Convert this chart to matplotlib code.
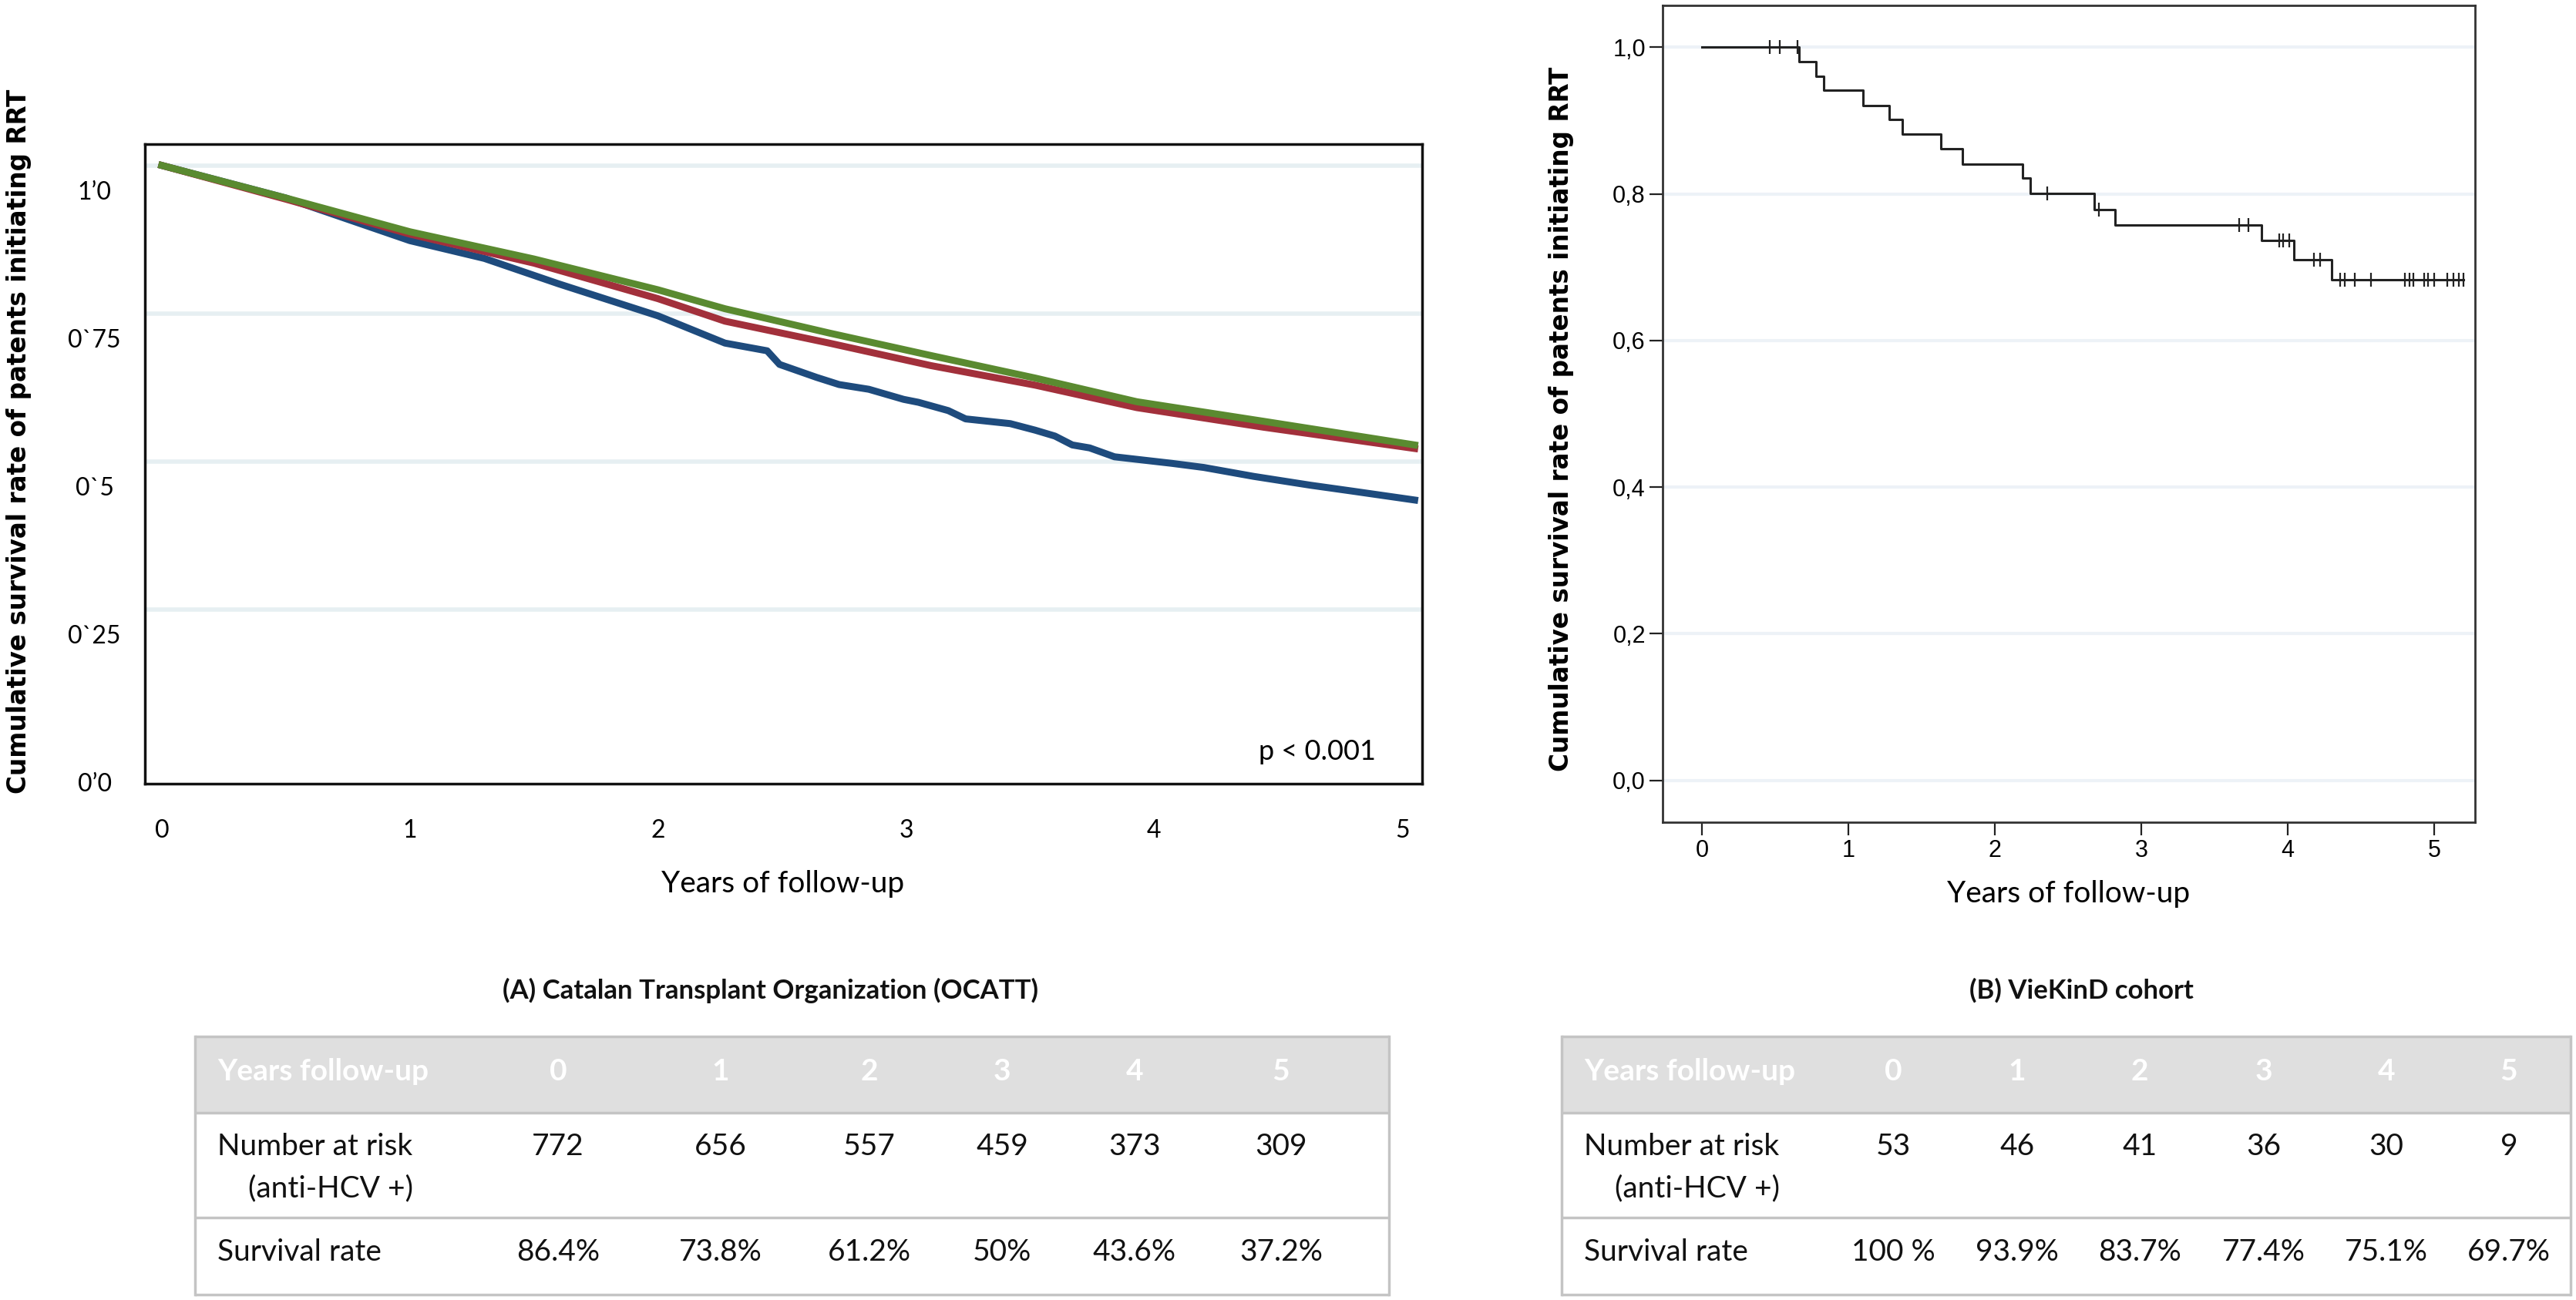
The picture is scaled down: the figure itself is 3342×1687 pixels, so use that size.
import matplotlib
matplotlib.use("Agg")
import matplotlib.pyplot as plt
import matplotlib.transforms as mtransforms
from matplotlib.patches import Rectangle
import numpy as np

W, H, DPI = 3342, 1687, 100

# ---- (A) OCATT survival curves ----
blue_t = [0, 0.5, 1.0, 1.3, 1.6, 1.8, 2.0, 2.27, 2.44, 2.49, 2.64, 2.73, 2.85, 2.99, 3.05,
          3.17, 3.24, 3.42, 3.52, 3.60, 3.67, 3.74, 3.84, 4.07, 4.2, 4.4, 4.63, 4.8, 5.05]
blue_s = [1.0, 0.945, 0.873, 0.843, 0.80, 0.773, 0.746, 0.70, 0.687, 0.664, 0.642, 0.630, 0.622,
          0.605, 0.600, 0.586, 0.572, 0.564, 0.553, 0.543, 0.528, 0.523, 0.508, 0.497, 0.49,
          0.475, 0.46, 0.45, 0.435]
red_t = [0, 0.5, 1.0, 1.5, 2.0, 2.27, 2.69, 3.1, 3.52, 3.93, 4.44, 5.05]
red_s = [1.0, 0.943, 0.884, 0.835, 0.775, 0.737, 0.700, 0.662, 0.629, 0.591, 0.558, 0.522]
green_t = [0, 0.5, 1.0, 1.5, 2.0, 2.27, 2.69, 3.1, 3.52, 3.93, 4.44, 5.05]
green_s = [1.0, 0.945, 0.888, 0.842, 0.79, 0.758, 0.717, 0.679, 0.641, 0.601, 0.568, 0.528]

a_yticks = [0, 0.25, 0.5, 0.75, 1.0]
a_ylabels = ["0\u20190", "0`25", "0`5", "0`75", "1\u20190"]

# ---- (B) VieKinD Kaplan-Meier ----
km_t = [0, 0.66, 0.78, 0.83, 1.10, 1.28, 1.37, 1.63, 1.78, 2.19, 2.24, 2.68, 2.82, 3.82,
        4.04, 4.30, 5.20]
km_s = [1.0, 0.980, 0.960, 0.941, 0.920, 0.901, 0.881, 0.861, 0.841, 0.822, 0.801, 0.779,
        0.757, 0.736, 0.710, 0.683, 0.683]
censor_t = [0.46, 0.53, 0.65, 2.36, 2.71, 3.67, 3.73, 3.94, 3.97, 4.01, 4.18, 4.22, 4.36,
            4.39, 4.46, 4.57, 4.80, 4.83, 4.86, 4.93, 4.96, 5.00, 5.09, 5.13, 5.17, 5.20]

b_yticks = [0, 0.2, 0.4, 0.6, 0.8, 1.0]
b_ylabels = ["0,0", "0,2", "0,4", "0,6", "0,8", "1,0"]

# ---- tables ----
years = ["0", "1", "2", "3", "4", "5"]
ocatt_risk = [772, 656, 557, 459, 373, 309]
ocatt_surv = ["86.4%", "73.8%", "61.2%", "50%", "43.6%", "37.2%"]
viekind_risk = [53, 46, 41, 36, 30, 9]
viekind_surv = ["100 %", "93.9%", "83.7%", "77.4%", "75.1%", "69.7%"]

ylabel = "Cumulative survival rate of patents initiating RRT"
TXT = ["Lato", "DejaVu Sans"]
NARROW = ["Liberation Sans Narrow", "Liberation Sans", "DejaVu Sans"]

fig = plt.figure(figsize=(W / DPI, H / DPI), dpi=DPI)
fig.patch.set_facecolor("white")


def px_rect(x0, y0, x1, y1):
    return [x0 / W, 1 - y1 / H, (x1 - x0) / W, (y1 - y0) / H]


# left panel
axA = fig.add_axes(px_rect(188, 187, 1845, 1017))
axA.plot(blue_t, blue_s, color="#1e4b7d", lw=6.5, zorder=3)
axA.plot(red_t, red_s, color="#a2303b", lw=6.5, zorder=4)
axA.plot(green_t, green_s, color="#5a8a30", lw=6.5, zorder=5)
axA.set_xlim(-0.068, 5.08)
axA.set_ylim(-0.044, 1.036)
axA.set_xticks(range(6), labels=years)
axA.set_yticks(a_yticks, labels=a_ylabels)
axA.tick_params(length=0, labelsize=23)
axA.tick_params(axis="x", pad=33)
axA.tick_params(axis="y", pad=47)
for lab in axA.get_xticklabels() + axA.get_yticklabels():
    lab.set_fontfamily(TXT)
plt.setp(axA.get_yticklabels(), ha="center")
shift = mtransforms.ScaledTranslation(0, -32 / DPI, fig.dpi_scale_trans)
for lab in axA.get_yticklabels():
    lab.set_transform(lab.get_transform() + shift)
axA.grid(axis="y", color="#e6eff2", lw=4)
axA.get_ygridlines()[0].set_visible(False)
axA.set_axisbelow(True)
for s in axA.spines.values():
    s.set_linewidth(2.5)
    s.set_color("#111111")

# right panel
axB = fig.add_axes(px_rect(2157, 7, 3211, 1067))
axB.step(km_t, km_s, where="post", color="#222222", lw=2.2, zorder=3)
cens_s = [km_s[np.searchsorted(km_t, t, side="right") - 1] for t in censor_t]
axB.plot(censor_t, cens_s, ls="none", marker="|", ms=13, mew=1.6, color="#222222", zorder=4)
axB.set_xlim(-0.27, 5.28)
axB.set_ylim(-0.057, 1.057)
axB.set_xticks(range(6), labels=years)
axB.set_yticks(b_yticks, labels=b_ylabels)
axB.tick_params(direction="out", length=12, width=1.6, labelsize=22, pad=4, color="#222222")
for lab in axB.get_xticklabels() + axB.get_yticklabels():
    lab.set_fontfamily(NARROW)
axB.grid(axis="y", color="#edf2f7", lw=3)
axB.set_axisbelow(True)
for s in axB.spines.values():
    s.set_linewidth(2)
    s.set_color("#333333")

# overlay in pixel space for labels, titles and tables
ov = fig.add_axes([0, 0, 1, 1])
ov.set_xlim(0, W)
ov.set_ylim(H, 0)
ov.axis("off")

ov.text(25, 573, ylabel, rotation=90, ha="center", va="center", fontsize=23.5,
        weight="bold", family="DejaVu Sans")
ov.text(2026, 544, ylabel, rotation=90, ha="center", va="center", fontsize=23.5,
        weight="bold", family="DejaVu Sans")
ov.text(1016, 1147, "Years of follow-up", ha="center", va="center", fontsize=28, family=TXT)
ov.text(2684, 1160, "Years of follow-up", ha="center", va="center", fontsize=28, family=TXT)
ov.text(1709, 975, "p < 0.001", ha="center", va="center", fontsize=26, family=TXT)

ov.text(1000, 1285, "(A) Catalan Transplant Organization (OCATT)", ha="center", va="center",
        fontsize=25, weight="bold", family=TXT, color="#111111")
ov.text(2700, 1285, "(B) VieKinD cohort", ha="center", va="center",
        fontsize=25, weight="bold", family=TXT, color="#111111")

ROW_Y = [1345, 1444, 1580, 1680]


def draw_table(x0, x1, col_x, label_x, risk, surv):
    ov.add_patch(Rectangle((x0, ROW_Y[0]), x1 - x0, ROW_Y[1] - ROW_Y[0],
                           fc="#dfdfdf", ec="none"))
    for y in ROW_Y:
        ov.plot([x0, x1], [y, y], color="#c4c4c4", lw=2.5, solid_capstyle="butt")
    for x in (x0, x1):
        ov.plot([x, x], [ROW_Y[0], ROW_Y[-1]], color="#c4c4c4", lw=2.5)
    hdr = dict(color="white", weight="bold", fontsize=28, family=TXT, va="center")
    body = dict(color="#111111", fontsize=28, family=TXT, va="center")
    ov.text(label_x, 1390, "Years follow-up", ha="left", **hdr)
    ov.text(label_x, 1488, "Number at risk", ha="left", **body)
    ov.text(label_x + 40, 1542, "(anti-HCV +)", ha="left", **body)
    ov.text(label_x, 1625, "Survival rate", ha="left", **body)
    for cx, yr, r, s in zip(col_x, years, risk, surv):
        ov.text(cx, 1390, yr, ha="center", **hdr)
        ov.text(cx, 1488, str(r), ha="center", **body)
        ov.text(cx, 1625, s, ha="center", **body)


draw_table(253, 1802, [724, 935, 1128, 1300, 1472, 1662], 282, ocatt_risk, ocatt_surv)
draw_table(2026, 3335, [2456, 2617, 2776, 2937, 3096, 3255], 2055, viekind_risk, viekind_surv)

fig.savefig("out.png", dpi=DPI)
